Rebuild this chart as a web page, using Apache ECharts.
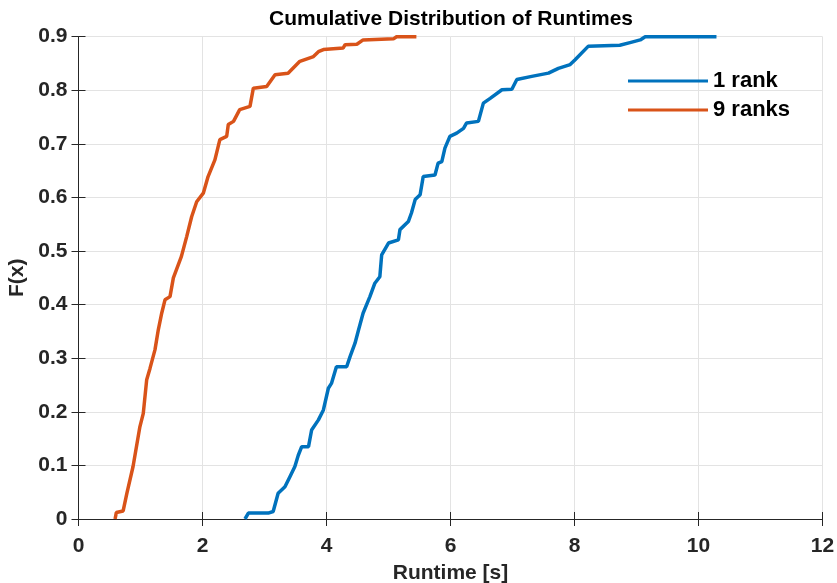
<!DOCTYPE html>
<html>
<head>
<meta charset="utf-8">
<script src="https://cdn.jsdelivr.net/npm/echarts@6/dist/echarts.min.js"></script>
<style>html,body{margin:0;padding:0;background:#fff}#c{width:837px;height:583px}</style>
</head>
<body>
<div id="c"></div>
<script>
const seriesNames = ['1 rank', '9 ranks'];
const xTicks = [0, 2, 4, 6, 8, 10, 12];
const yTicks = [0, 0.1, 0.2, 0.3, 0.4, 0.5, 0.6, 0.7, 0.8, 0.9];

const rank1X = [2.685, 2.74, 3.06, 3.14, 3.22, 3.33, 3.41, 3.49, 3.545, 3.60, 3.71, 3.76, 3.87, 3.95, 4.03, 4.08, 4.16, 4.325, 4.38, 4.46, 4.51, 4.59, 4.70, 4.78, 4.86, 4.89, 5.0, 5.16, 5.185, 5.32, 5.37, 5.43, 5.51, 5.56, 5.75, 5.80, 5.86, 5.91, 5.99, 6.10, 6.21, 6.26, 6.45, 6.53, 6.64, 6.83, 6.99, 7.07, 7.31, 7.58, 7.74, 7.93, 8.01, 8.22, 8.73, 8.895, 9.06, 9.14, 10.29];
const rank1Y = [0.0, 0.011, 0.011, 0.014, 0.048, 0.06, 0.079, 0.098, 0.119, 0.135, 0.135, 0.166, 0.185, 0.2035, 0.244, 0.253, 0.284, 0.284, 0.303, 0.328, 0.35, 0.384, 0.415, 0.44, 0.452, 0.493, 0.515, 0.521, 0.54, 0.555, 0.571, 0.596, 0.605, 0.639, 0.642, 0.664, 0.667, 0.692, 0.714, 0.72, 0.729, 0.739, 0.742, 0.776, 0.785, 0.801, 0.802, 0.82, 0.826, 0.832, 0.841, 0.848, 0.857, 0.882, 0.884, 0.889, 0.894, 0.9, 0.9];

const ranks9X = [0.59, 0.61, 0.72, 0.78, 0.88, 0.99, 1.045, 1.10, 1.153, 1.234, 1.287, 1.342, 1.395, 1.476, 1.53, 1.66, 1.745, 1.825, 1.906, 2.013, 2.09, 2.2, 2.28, 2.39, 2.416, 2.50, 2.60, 2.766, 2.82, 3.035, 3.17, 3.38, 3.57, 3.79, 3.87, 3.95, 4.27, 4.30, 4.49, 4.59, 5.08, 5.13, 5.45];
const ranks9Y = [0.0, 0.012, 0.015, 0.048, 0.098, 0.172, 0.197, 0.26, 0.281, 0.316, 0.353, 0.384, 0.409, 0.415, 0.45, 0.49, 0.527, 0.564, 0.592, 0.608, 0.639, 0.67, 0.708, 0.714, 0.736, 0.742, 0.764, 0.77, 0.804, 0.807, 0.829, 0.832, 0.854, 0.863, 0.872, 0.876, 0.879, 0.885, 0.886, 0.894, 0.896, 0.9, 0.9];

const colors = ['#0072BD', '#D95319'];
const font = 'Liberation Sans, Arial, sans-serif';
const pairs = (xs, ys) => xs.map((x, i) => [x, ys[i]]);

const chart = echarts.init(document.getElementById('c'), null, {renderer: 'canvas'});
const axisLine = {show: true, lineStyle: {color: '#262626', width: 1}};
const tick = {show: true, inside: true, length: 7, lineStyle: {color: '#262626'}};
chart.setOption({
  animation: false,
  backgroundColor: '#ffffff',
  title: {
    text: 'Cumulative Distribution of Runtimes',
    left: 446, top: 4, textAlign: 'center',
    textStyle: {fontFamily: font, fontWeight: 'bold', fontSize: 21, color: '#000'}
  },
  grid: {left: 78.5, right: 14.5, top: 36.7, bottom: 64, containLabel: false, outerBoundsMode: 'none'},
  legend: {
    data: seriesNames,
    orient: 'vertical',
    left: 623, top: 65,
    icon: 'rect', itemWidth: 80, itemHeight: 3, itemGap: 7,
    textStyle: {fontFamily: font, fontWeight: 'bold', fontSize: 22, color: '#000'}
  },
  xAxis: [{
    type: 'value', min: xTicks[0], max: xTicks[xTicks.length - 1], interval: 2,
    name: 'Runtime [s]', nameLocation: 'middle', nameGap: 44,
    nameTextStyle: {fontFamily: font, fontWeight: 'bold', fontSize: 21, color: '#262626'},
    axisLine: axisLine, axisTick: tick,
    axisLabel: {fontFamily: font, fontWeight: 'bold', fontSize: 21, color: '#262626', margin: 17},
    splitLine: {show: true, lineStyle: {color: '#e3e3e3', width: 1}}
  }, {
    type: 'value', position: 'top', min: 0, max: 12, interval: 2,
    axisLine: axisLine, axisTick: tick, axisLabel: {show: false}, splitLine: {show: false}
  }],
  yAxis: [{
    type: 'value', min: yTicks[0], max: yTicks[yTicks.length - 1], interval: 0.1,
    name: 'F(x)', nameLocation: 'middle', nameGap: 50,
    nameTextStyle: {fontFamily: font, fontWeight: 'bold', fontSize: 21, color: '#262626'},
    axisLine: axisLine, axisTick: tick,
    axisLabel: {fontFamily: font, fontWeight: 'bold', fontSize: 21, color: '#262626', margin: 11,
      formatter: v => (Math.round(v * 10) / 10).toString()},
    splitLine: {show: true, lineStyle: {color: '#e3e3e3', width: 1}}
  }, {
    type: 'value', position: 'right', min: 0, max: 0.9, interval: 0.1,
    axisLine: axisLine, axisTick: tick, axisLabel: {show: false}, splitLine: {show: false}
  }],
  series: [{
    name: seriesNames[0], type: 'line', data: pairs(rank1X, rank1Y),
    showSymbol: false, symbol: 'none', color: colors[0],
    lineStyle: {color: colors[0], width: 3.5}, clip: true
  }, {
    name: seriesNames[1], type: 'line', data: pairs(ranks9X, ranks9Y),
    showSymbol: false, symbol: 'none', color: colors[1],
    lineStyle: {color: colors[1], width: 3.5}, clip: true
  }]
});
</script>
</body>
</html>
